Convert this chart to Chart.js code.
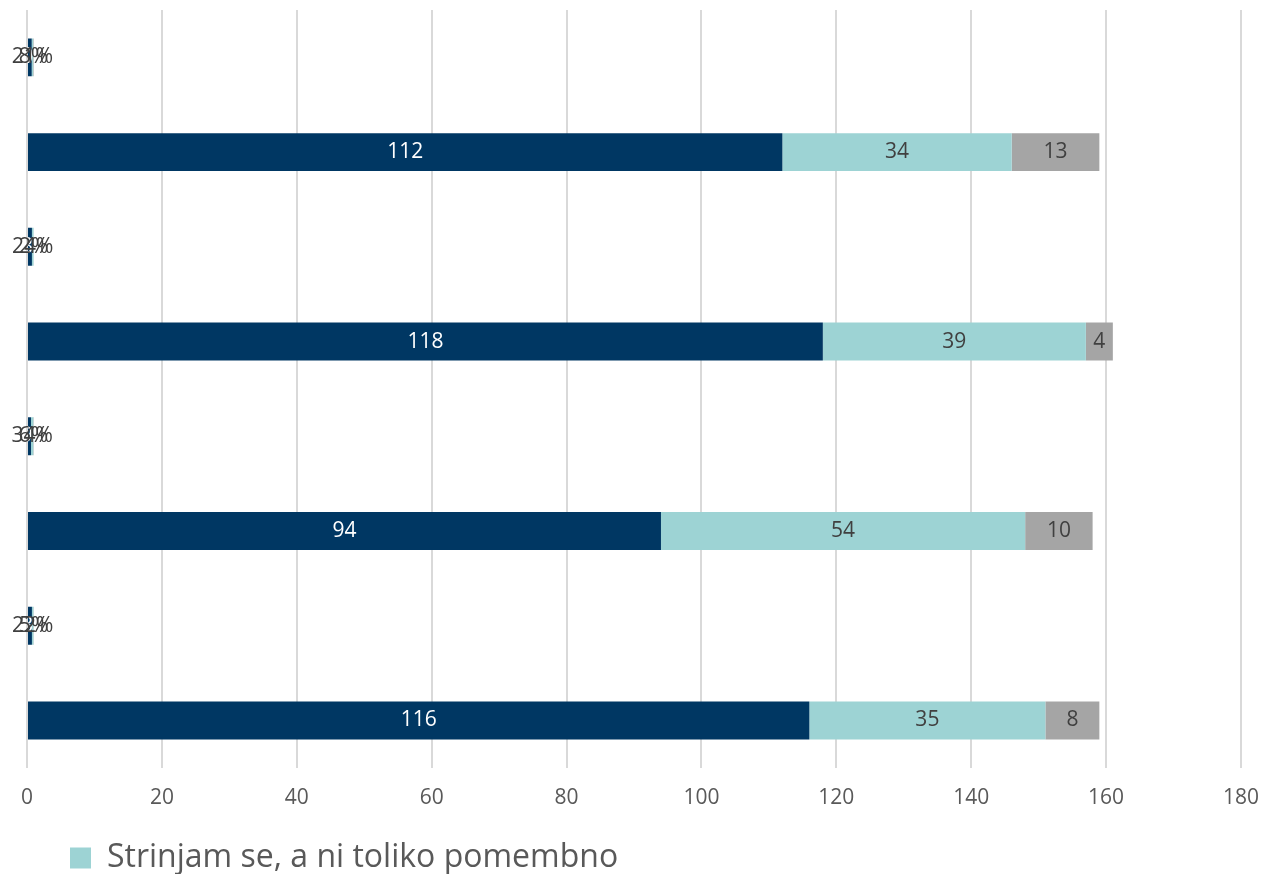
<!DOCTYPE html>
<html>
<head>
<meta charset="utf-8">
<script src="https://cdn.jsdelivr.net/npm/chart.js@4/dist/chart.umd.min.js"></script>
<style>
  html, body { margin: 0; padding: 0; background: #fff; overflow: hidden; }
  #wrap { position: relative; width: 1261px; height: 884px; }
</style>
</head>
<body>
<div id="wrap"><canvas id="chart"></canvas></div>
<script>
// rows top to bottom: share row, count row, ...
const categories = ['', '', '', '', '', '', '', ''];
const rowKind = ['pct', 'count', 'pct', 'count', 'pct', 'count', 'pct', 'count'];

const seriesNames = ['Strinjam se in je pomembno', 'Strinjam se, a ni toliko pomembno', 'Ne strinjam se'];
const important = [0.70, 112, 0.73, 118, 0.59, 94, 0.73, 116];
const notSoImportant = [0.21, 34, 0.24, 39, 0.34, 54, 0.22, 35];
const disagree = [0.08, 13, 0.02, 4, 0.06, 10, 0.05, 8];

const xTicks = [0, 20, 40, 60, 80, 100, 120, 140, 160, 180];

const colors = ['#003763', '#9dd3d4', '#a5a5a5'];
const labelColors = ['#ffffff', '#404040', '#404040'];

const fontFamily = '"Open Sans", "Noto Sans", sans-serif';

const barLabels = {
    id: 'barLabels',
    afterDatasetsDraw(chart) {
        const ctx = chart.ctx;
        ctx.save();
        ctx.font = '21px ' + fontFamily;
        ctx.textAlign = 'center';
        ctx.textBaseline = 'middle';
        chart.data.datasets.forEach((ds, di) => {
            const meta = chart.getDatasetMeta(di);
            meta.data.forEach((bar, i) => {
                const v = ds.data[i];
                const txt = rowKind[i] === 'pct' ? Math.round(v * 100) + '%' : String(v);
                const cx = (bar.x + bar.base) / 2;
                ctx.fillStyle = labelColors[di];
                ctx.fillText(txt, cx, bar.y);
            });
        });
        ctx.restore();
    }
};

// move the legend a bit to the right, like the original
const legendShift = {
    id: 'legendShift',
    afterLayout(chart) {
        if (chart.legend) chart.legend.left += 31;
    }
};

new Chart(document.getElementById('chart'), {
    type: 'bar',
    data: {
        labels: categories,
        datasets: [
            { label: seriesNames[0], data: important, backgroundColor: colors[0] },
            { label: seriesNames[1], data: notSoImportant, backgroundColor: colors[1] },
            { label: seriesNames[2], data: disagree, backgroundColor: colors[2] }
        ]
    },
    options: {
        indexAxis: 'y',
        responsive: true,
        maintainAspectRatio: false,
        animation: false,
        categoryPercentage: 0.8,
        barPercentage: 0.5,
        layout: { padding: { left: 27, right: 6, top: 10, bottom: 0 } },
        scales: {
            x: {
                stacked: true,
                min: 0,
                max: 180,
                afterBuildTicks(axis) {
                    axis.ticks = xTicks.map(v => ({ value: v }));
                },
                afterFit(axis) {
                    axis.height += 17;
                },
                grid: { color: '#d9d9d9', lineWidth: 2, drawTicks: true, tickLength: 16, tickColor: 'rgba(0,0,0,0)' },
                border: { display: false },
                ticks: {
                    padding: 2,
                    color: '#595959',
                    font: { family: fontFamily, size: 21 }
                }
            },
            y: {
                stacked: true,
                display: false
            }
        },
        plugins: {
            legend: {
                position: 'bottom',
                align: 'start',
                labels: {
                    filter: item => item.datasetIndex === 1,
                    boxWidth: 21,
                    boxHeight: 21,
                    padding: 12,
                    color: '#595959',
                    font: { family: fontFamily, size: 32 }
                }
            },
            tooltip: { enabled: false }
        }
    },
    plugins: [barLabels, legendShift]
});
</script>
</body>
</html>
